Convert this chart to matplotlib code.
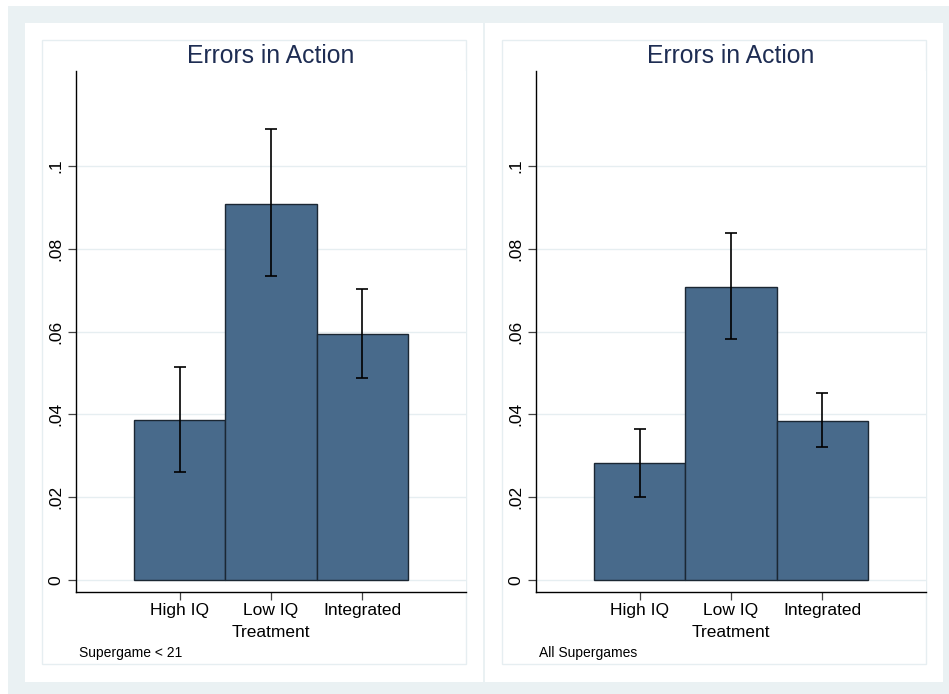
import matplotlib
matplotlib.use("Agg")
import matplotlib.pyplot as plt
from matplotlib.patches import Rectangle
import numpy as np

plt.rcParams['font.family'] = ['Liberation Sans', 'DejaVu Sans']

categories = ['High IQ', 'Low IQ', 'Integrated']
panel_titles = ['Errors in Action', 'Errors in Action']
panel_notes = ['Supergame < 21', 'All Supergames']

# means and 95% CI bounds
means_sg21 = [0.0386, 0.0909, 0.0594]
lower_sg21 = [0.0261, 0.0733, 0.0488]
upper_sg21 = [0.0515, 0.1089, 0.0703]

means_all = [0.0282, 0.0708, 0.0383]
lower_all = [0.0200, 0.0582, 0.0321]
upper_all = [0.0365, 0.0838, 0.0452]

yticks = [0, 0.02, 0.04, 0.06, 0.08, 0.1]
ytick_labels = ['0', '.02', '.04', '.06', '.08', '.1']

W, H = 949, 694
BG = '#EAF1F3'
BAR = '#486A8B'
EDGE = '#1B2733'
TITLE = '#1E2D53'
GRID = '#E6EEF1'

fig = plt.figure(figsize=(W / 100, H / 100), dpi=100)
fig.patch.set_facecolor('white')


def px_rect(x0, y0, x1, y1, z, **kw):
    # rectangle in pixel coords (y from top)
    r = Rectangle((x0 / W, 1 - y1 / H), (x1 - x0) / W, (y1 - y0) / H,
                  transform=fig.transFigure, zorder=z, **kw)
    fig.patches.append(r)


px_rect(8, 6, 949, 694, -3, facecolor=BG, edgecolor='none')

panels = [
    (means_sg21, lower_sg21, upper_sg21),
    (means_all, lower_all, upper_all),
]

for i, (means, lo, hi) in enumerate(panels):
    off = i * 460
    px_rect(25 + off, 23, 483 + off, 682, -2, facecolor='white', edgecolor='none')
    px_rect(42 + off, 40, 466 + off, 664, -1, facecolor='none', edgecolor=GRID, lw=1.0)

    ax_l, ax_r, ax_t, ax_b = 76 + off, 466 + off, 71, 592
    ax = fig.add_axes([ax_l / W, 1 - ax_b / H, (ax_r - ax_l) / W, (ax_b - ax_t) / H])
    ax.set_zorder(1)
    ax.set_facecolor('white')

    x = np.arange(1, len(categories) + 1)
    means = np.array(means)
    err = [means - np.array(lo), np.array(hi) - means]
    ax.bar(x, means, width=1.0, color=BAR, edgecolor=EDGE, linewidth=1.0, zorder=2)
    ax.errorbar(x, means, yerr=err, fmt='none', ecolor='black', elinewidth=1.2,
                capsize=4.5, capthick=1.2, zorder=3)

    ax.set_xlim(-0.137, 4.137)
    ax.set_ylim(-0.0029, 0.1229)
    ax.set_yticks(yticks)
    ax.set_yticklabels(ytick_labels, rotation=90, va='center', fontsize=12.5)
    ax.set_xticks(x)
    ax.set_xticklabels(categories, fontsize=12.5)
    ax.tick_params(axis='both', length=6, width=0.9, color='#444444', pad=2)
    ax.tick_params(axis='y', pad=3)
    ax.grid(axis='y', color=GRID, linewidth=1.0, zorder=0)
    ax.set_axisbelow(True)
    for s in ['top', 'right']:
        ax.spines[s].set_visible(False)
    for s in ['left', 'bottom']:
        ax.spines[s].set_linewidth(1.0)
        ax.spines[s].set_color('black')

    fig.text((ax_l + ax_r) / 2 / W, 1 - 63 / H, panel_titles[i], ha='center',
             va='baseline', fontsize=17.8, color=TITLE)
    fig.text((ax_l + ax_r) / 2 / W, 1 - 637 / H, 'Treatment', ha='center',
             va='baseline', fontsize=12.5, color='black')
    fig.text((79 + off) / W, 1 - 657 / H, panel_notes[i], ha='left',
             va='baseline', fontsize=10, color='black')

fig.savefig('out.png', dpi=100, facecolor=fig.get_facecolor())
